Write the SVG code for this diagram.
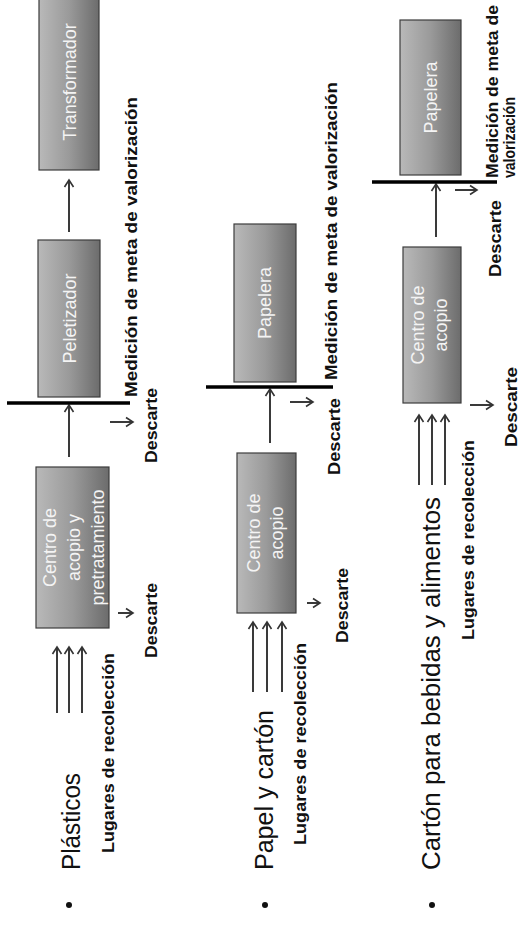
<svg xmlns="http://www.w3.org/2000/svg" width="521" height="932" viewBox="0 0 521 932">
<defs>
<linearGradient id="boxg" x1="0" y1="0" x2="0" y2="1">
<stop offset="0" stop-color="#b9b9b9"/>
<stop offset="0.5" stop-color="#9a9a9a"/>
<stop offset="1" stop-color="#6c6c6c"/>
</linearGradient>
<marker id="ah" markerUnits="userSpaceOnUse" markerWidth="12" markerHeight="12" refX="9" refY="6" orient="auto">
<path d="M2,1.5 L9,6 L2,10.5" fill="none" stroke="#333" stroke-width="1.6"/>
</marker>
<style>
.box{fill:url(#boxg);stroke:#3c3c3c;stroke-width:1.2}
.bt{font-family:"Liberation Sans",Arial,sans-serif;font-size:18px;fill:#f4f4f4;text-anchor:middle}
.title{font-family:"Liberation Sans",Arial,sans-serif;font-size:26px;fill:#111}
.lbl{font-family:"Liberation Sans",Arial,sans-serif;font-size:17px;font-weight:bold;fill:#111}
.ar{stroke:#3a3a3a;stroke-width:2;fill:none;marker-end:url(#ah)}
.bar{stroke:#000;stroke-width:3.5}
</style>
</defs>
<rect width="521" height="932" fill="#fff"/>
<g transform="matrix(0 -1 1 0 0 932)">
<!-- Row 1: Plásticos -->
<g id="row1-title">
<circle cx="27" cy="69" r="3" fill="#111"/>
<text class="title" x="62" y="80" textLength="97" lengthAdjust="spacingAndGlyphs">Plásticos</text>
<text class="lbl" x="79" y="114" textLength="200" lengthAdjust="spacingAndGlyphs">Lugares de recolección</text>
</g>
<g id="r1-centro">
<rect class="box" x="304" y="36" width="161" height="73"/>
<text class="bt" x="384.5" y="56">Centro de</text>
<text class="bt" x="384.5" y="80">acopio y</text>
<text class="bt" x="384.5" y="104">pretratamiento</text>
</g>
<g id="r1-peletizador">
<rect class="box" x="535" y="38" width="157" height="62"/>
<text class="bt" x="613.5" y="76">Peletizador</text>
</g>
<g id="r1-transformador">
<rect class="box" x="762" y="39" width="180" height="60"/>
<text class="bt" x="850" y="76">Transformador</text>
</g>
<g id="r1-labels">
<text class="lbl" x="274" y="157" textLength="75" lengthAdjust="spacingAndGlyphs">Descarte</text>
<text class="lbl" x="469" y="157" textLength="75" lengthAdjust="spacingAndGlyphs">Descarte</text>
<text class="lbl" x="535" y="137" textLength="300" lengthAdjust="spacingAndGlyphs">Medición de meta de valorización</text>
</g>

<!-- Row 2: Papel y cartón -->
<g id="row2-title">
<circle cx="27" cy="265" r="3" fill="#111"/>
<text class="title" x="62" y="273" textLength="160" lengthAdjust="spacingAndGlyphs">Papel y cartón</text>
<text class="lbl" x="87" y="306" textLength="202" lengthAdjust="spacingAndGlyphs">Lugares de recolección</text>
</g>
<g id="r2-centro">
<rect class="box" x="319" y="237" width="160" height="59"/>
<text class="bt" x="399" y="260">Centro de</text>
<text class="bt" x="399" y="283">acopio</text>
</g>
<g id="r2-papelera">
<rect class="box" x="550" y="234" width="158" height="62"/>
<text class="bt" x="629" y="271">Papelera</text>
</g>
<g id="r2-labels">
<text class="lbl" x="289" y="348" textLength="75" lengthAdjust="spacingAndGlyphs">Descarte</text>
<text class="lbl" x="457" y="340" textLength="77" lengthAdjust="spacingAndGlyphs">Descarte</text>
<text class="lbl" x="552" y="337" textLength="298" lengthAdjust="spacingAndGlyphs">Medición de meta de valorización</text>
</g>

<!-- Row 3: Cartón para bebidas y alimentos -->
<g id="row3-title">
<circle cx="27" cy="432" r="3" fill="#111"/>
<text class="title" x="62" y="440" textLength="373" lengthAdjust="spacingAndGlyphs">Cartón para bebidas y alimentos</text>
<text class="lbl" x="292" y="474" textLength="200" lengthAdjust="spacingAndGlyphs">Lugares de recolección</text>
</g>
<g id="r3-centro">
<rect class="box" x="529" y="403" width="156" height="58"/>
<text class="bt" x="607" y="424">Centro de</text>
<text class="bt" x="607" y="447">acopio</text>
</g>
<g id="r3-papelera">
<rect class="box" x="757" y="400" width="155" height="61"/>
<text class="bt" x="834.5" y="437">Papelera</text>
</g>
<g id="r3-labels">
<text class="lbl" x="485" y="517" textLength="80" lengthAdjust="spacingAndGlyphs">Descarte</text>
<text class="lbl" x="655" y="501" textLength="77" lengthAdjust="spacingAndGlyphs">Descarte</text>
<text class="lbl" x="754" y="498" textLength="173" lengthAdjust="spacingAndGlyphs">Medición de meta de</text>
<text class="lbl" x="754" y="515" style="font-size:16px" textLength="81" lengthAdjust="spacingAndGlyphs">valorización</text>
</g>

<g id="connectors">
<!-- row 1 -->
<line class="ar" x1="219" y1="57" x2="285" y2="57"/>
<line class="ar" x1="219" y1="69" x2="285" y2="69"/>
<line class="ar" x1="219" y1="82" x2="285" y2="82"/>
<line class="ar" x1="319" y1="118" x2="319" y2="133"/>
<line class="ar" x1="475" y1="69" x2="527" y2="69"/>
<line class="bar" x1="529" y1="7" x2="529" y2="130"/>
<line class="ar" x1="510" y1="110" x2="510" y2="133"/>
<line class="ar" x1="700" y1="69" x2="752" y2="69"/>
<!-- row 2 -->
<line class="ar" x1="240" y1="253" x2="310" y2="253"/>
<line class="ar" x1="240" y1="267" x2="310" y2="267"/>
<line class="ar" x1="240" y1="282" x2="310" y2="282"/>
<line class="ar" x1="329" y1="307" x2="329" y2="320"/>
<line class="ar" x1="489" y1="270" x2="543" y2="270"/>
<line class="bar" x1="545" y1="206" x2="545" y2="333"/>
<line class="ar" x1="530" y1="290" x2="530" y2="313"/>
<!-- row 3 -->
<line class="ar" x1="447" y1="419" x2="517" y2="419"/>
<line class="ar" x1="447" y1="432" x2="517" y2="432"/>
<line class="ar" x1="447" y1="445" x2="517" y2="445"/>
<line class="ar" x1="527" y1="470" x2="527" y2="493"/>
<line class="ar" x1="695" y1="436" x2="748" y2="436"/>
<line class="bar" x1="750" y1="372" x2="750" y2="497"/>
<line class="ar" x1="742" y1="455" x2="742" y2="477"/>
</g>
</g>
</svg>
